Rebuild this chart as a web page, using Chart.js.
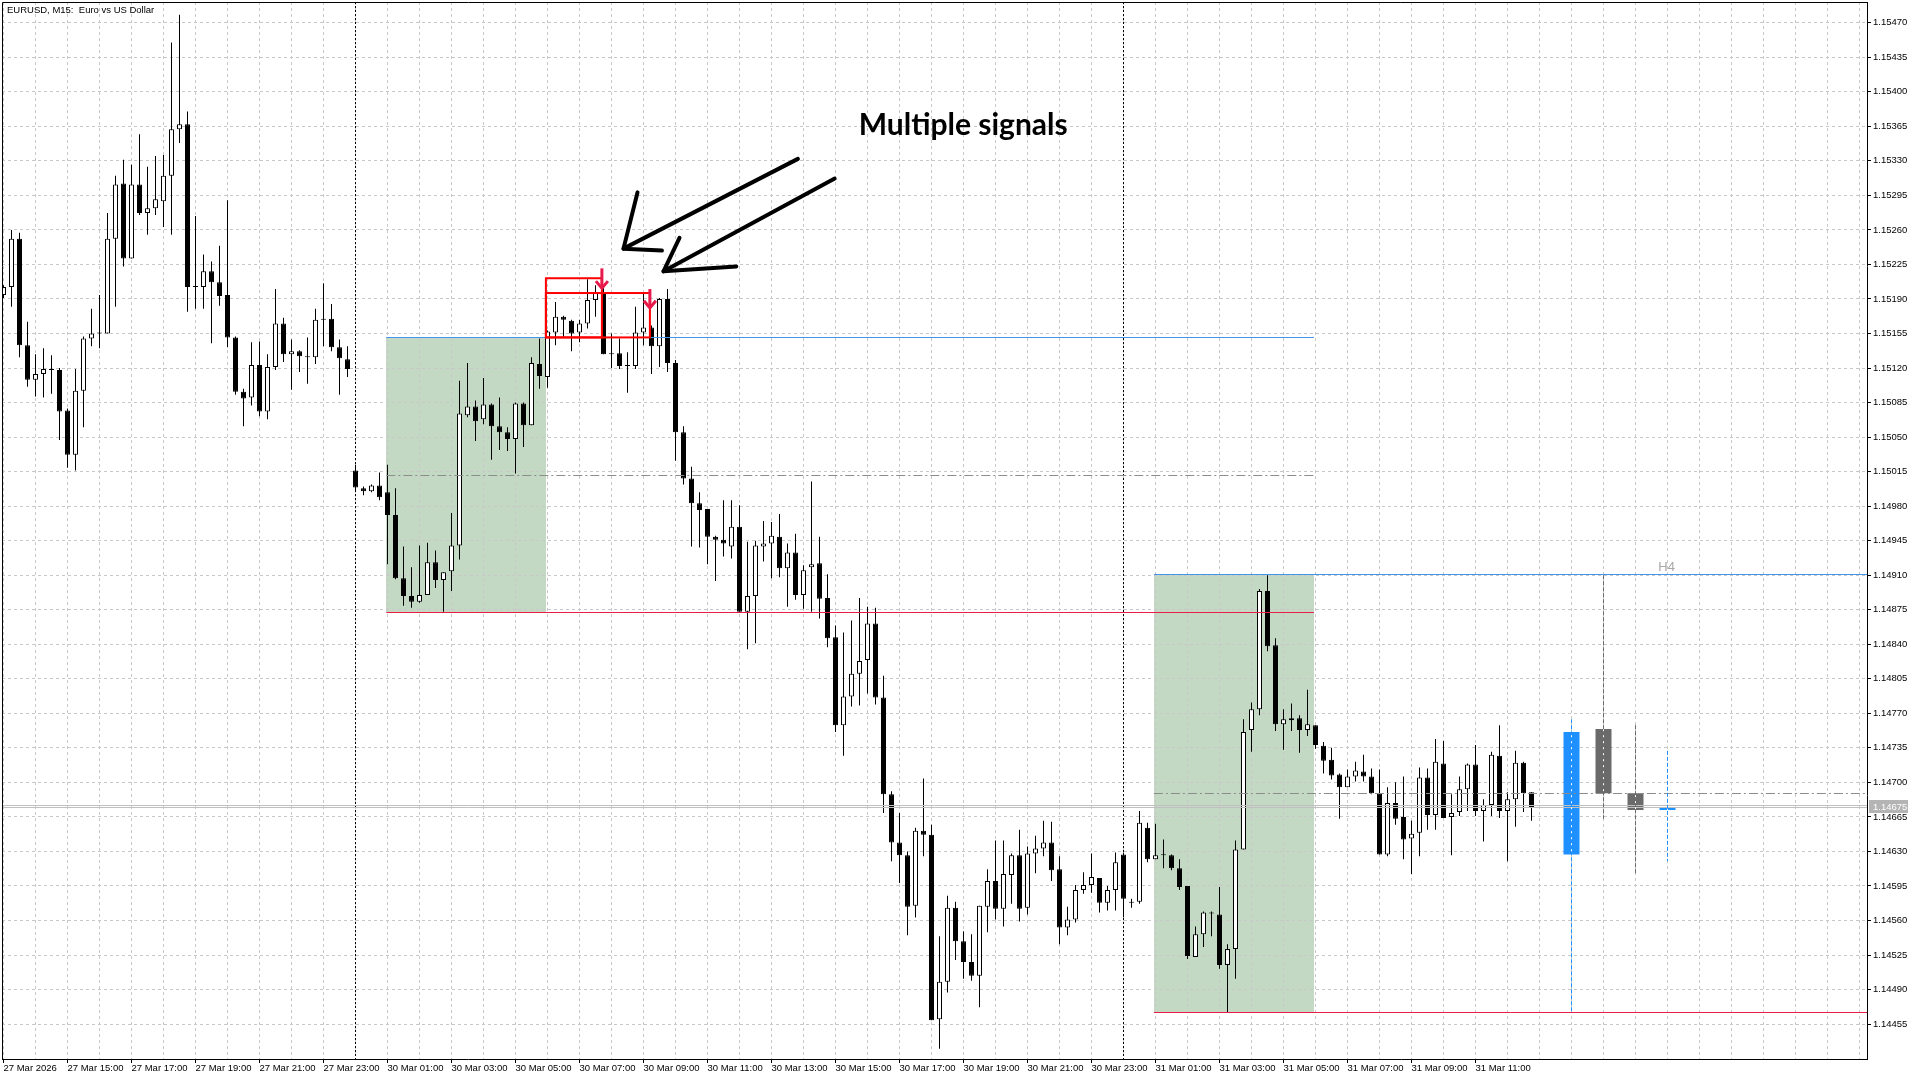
<!DOCTYPE html>
<html>
<head>
<meta charset="utf-8">
<title>EURUSD, M15</title>
<script src="https://cdn.jsdelivr.net/npm/chart.js@4.4.1/dist/chart.umd.min.js"></script>
<style>
  html, body { margin: 0; padding: 0; background: #fff; overflow: hidden; }
  canvas { display: block; }
</style>
</head>
<body>
<canvas id="chart" width="1920" height="1080" style="width:1920px;height:1080px"></canvas>
<script>
// EURUSD M15, one entry per bar: 27 Mar 13:00 ... 31 Mar 12:45 (weekend skipped)
const opens = [
  1.15194, 1.15202, 1.15251, 1.15143, 1.15108, 1.15114, 1.15119, 1.15118, 1.15077, 1.15032,
  1.15097, 1.15150, 1.15155, 1.15155, 1.15251, 1.15307, 1.15231, 1.15306, 1.15277, 1.15282,
  1.15289, 1.15315, 1.15362, 1.15367, 1.15202, 1.15202, 1.15218, 1.15207, 1.15194, 1.15151,
  1.15096, 1.15090, 1.15123, 1.15076, 1.15121, 1.15165, 1.15134, 1.15137, 1.15132, 1.15131,
  1.15169, 1.15170, 1.15141, 1.15129, 1.15016, 1.14998, 1.14995, 1.15001, 1.14994, 1.14971,
  1.14907, 1.14889, 1.14883, 1.14890, 1.14923, 1.14905, 1.14914, 1.14940, 1.15072, 1.15081,
  1.15068, 1.15083, 1.15061, 1.15055, 1.15048, 1.15084, 1.15062, 1.15124, 1.15111, 1.15156,
  1.15172, 1.15168, 1.15156, 1.15165, 1.15189, 1.15196, 1.15135, 1.15135, 1.15123, 1.15122,
  1.15156, 1.15161, 1.15142, 1.15190, 1.15125, 1.15055, 1.15008, 1.14983, 1.14977, 1.14949,
  1.14946, 1.14939, 1.14959, 1.14873, 1.14889, 1.14939, 1.14942, 1.14949, 1.14917, 1.14933,
  1.14890, 1.14918, 1.14922, 1.14887, 1.14847, 1.14758, 1.14787, 1.14810, 1.14824, 1.14861,
  1.14786, 1.14688, 1.14639, 1.14626, 1.14575, 1.14651, 1.14647, 1.14460, 1.14498, 1.14573,
  1.14539, 1.14518, 1.14504, 1.14574, 1.14600, 1.14572, 1.14606, 1.14626, 1.14573, 1.14628,
  1.14633, 1.14639, 1.14612, 1.14553, 1.14561, 1.14591, 1.14596, 1.14603, 1.14578, 1.14591,
  1.14627, 1.14578, 1.14579, 1.14654, 1.14622, 1.14626, 1.14626, 1.14613, 1.14595, 1.14523,
  1.14546, 1.14567, 1.14566, 1.14515, 1.14531, 1.14632, 1.14753, 1.14774, 1.14894, 1.14839,
  1.14759, 1.14763, 1.14765, 1.14753, 1.14758, 1.14737, 1.14723, 1.14708, 1.14695, 1.14706,
  1.14711, 1.14706, 1.14689, 1.14627, 1.14679, 1.14665, 1.14643, 1.14649, 1.14705, 1.14667,
  1.14719, 1.14665, 1.14670, 1.14693, 1.14718, 1.14671, 1.14677, 1.14727, 1.14671, 1.14683,
  1.14720, 1.14690
];
const highs = [
  1.15204, 1.15260, 1.15257, 1.15167, 1.15134, 1.15140, 1.15133, 1.15120, 1.15079, 1.15119,
  1.15152, 1.15180, 1.15194, 1.15277, 1.15315, 1.15331, 1.15326, 1.15357, 1.15324, 1.15335,
  1.15336, 1.15450, 1.15478, 1.15380, 1.15274, 1.15235, 1.15228, 1.15244, 1.15290, 1.15152,
  1.15099, 1.15146, 1.15147, 1.15134, 1.15200, 1.15171, 1.15149, 1.15138, 1.15151, 1.15180,
  1.15206, 1.15185, 1.15149, 1.15142, 1.15022, 1.15000, 1.15002, 1.15014, 1.15022, 1.14998,
  1.14939, 1.14918, 1.14940, 1.14943, 1.14935, 1.14913, 1.14973, 1.15107, 1.15125, 1.15087,
  1.15110, 1.15084, 1.15090, 1.15060, 1.15085, 1.15085, 1.15131, 1.15150, 1.15158, 1.15187,
  1.15173, 1.15169, 1.15169, 1.15210, 1.15204, 1.15202, 1.15155, 1.15150, 1.15136, 1.15182,
  1.15195, 1.15163, 1.15191, 1.15200, 1.15128, 1.15061, 1.15020, 1.14994, 1.14977, 1.14950,
  1.14986, 1.14986, 1.14981, 1.14944, 1.14945, 1.14965, 1.14964, 1.14972, 1.14942, 1.14952,
  1.14920, 1.15005, 1.14949, 1.14911, 1.14859, 1.14852, 1.14864, 1.14887, 1.14878, 1.14877,
  1.14808, 1.14691, 1.14669, 1.14630, 1.14654, 1.14704, 1.14657, 1.14544, 1.14585, 1.14579,
  1.14549, 1.14546, 1.14575, 1.14612, 1.14641, 1.14641, 1.14628, 1.14652, 1.14635, 1.14646,
  1.14661, 1.14660, 1.14625, 1.14574, 1.14596, 1.14609, 1.14628, 1.14603, 1.14595, 1.14629,
  1.14629, 1.14582, 1.14671, 1.14659, 1.14658, 1.14642, 1.14627, 1.14622, 1.14595, 1.14554,
  1.14569, 1.14569, 1.14594, 1.14536, 1.14641, 1.14764, 1.14781, 1.14896, 1.14910, 1.14846,
  1.14774, 1.14780, 1.14768, 1.14794, 1.14758, 1.14741, 1.14735, 1.14709, 1.14713, 1.14721,
  1.14728, 1.14714, 1.14713, 1.14695, 1.14700, 1.14706, 1.14661, 1.14715, 1.14714, 1.14744,
  1.14742, 1.14688, 1.14706, 1.14719, 1.14738, 1.14683, 1.14731, 1.14758, 1.14690, 1.14732,
  1.14721, 1.14690
];
const lows = [
  1.15191, 1.15182, 1.15131, 1.15101, 1.15091, 1.15090, 1.15094, 1.15047, 1.15019, 1.15016,
  1.15060, 1.15142, 1.15140, 1.15155, 1.15182, 1.15223, 1.15231, 1.15275, 1.15255, 1.15275,
  1.15263, 1.15255, 1.15348, 1.15177, 1.15180, 1.15180, 1.15145, 1.15183, 1.15141, 1.15093,
  1.15061, 1.15082, 1.15071, 1.15068, 1.15118, 1.15126, 1.15098, 1.15116, 1.15104, 1.15124,
  1.15142, 1.15137, 1.15093, 1.15111, 1.14994, 1.14991, 1.14994, 1.14986, 1.14921, 1.14906,
  1.14879, 1.14877, 1.14882, 1.14890, 1.14897, 1.14873, 1.14894, 1.14926, 1.15070, 1.15046,
  1.15063, 1.15027, 1.15037, 1.15036, 1.15013, 1.15040, 1.15062, 1.15099, 1.15100, 1.15143,
  1.15151, 1.15137, 1.15146, 1.15160, 1.15172, 1.15134, 1.15120, 1.15119, 1.15095, 1.15119,
  1.15143, 1.15114, 1.15121, 1.15116, 1.15026, 1.15002, 1.14939, 1.14938, 1.14921, 1.14904,
  1.14929, 1.14927, 1.14873, 1.14835, 1.14841, 1.14924, 1.14907, 1.14908, 1.14878, 1.14885,
  1.14876, 1.14873, 1.14866, 1.14837, 1.14751, 1.14727, 1.14777, 1.14778, 1.14790, 1.14779,
  1.14669, 1.14620, 1.14598, 1.14545, 1.14563, 1.14625, 1.14459, 1.14430, 1.14487, 1.14520,
  1.14501, 1.14499, 1.14472, 1.14548, 1.14561, 1.14554, 1.14577, 1.14559, 1.14566, 1.14608,
  1.14625, 1.14600, 1.14536, 1.14545, 1.14558, 1.14587, 1.14588, 1.14568, 1.14570, 1.14570,
  1.14563, 1.14573, 1.14577, 1.14619, 1.14622, 1.14613, 1.14611, 1.14591, 1.14521, 1.14523,
  1.14533, 1.14544, 1.14511, 1.14467, 1.14501, 1.14632, 1.14731, 1.14768, 1.14833, 1.14752,
  1.14733, 1.14752, 1.14730, 1.14747, 1.14734, 1.14709, 1.14703, 1.14663, 1.14695, 1.14701,
  1.14701, 1.14688, 1.14627, 1.14625, 1.14657, 1.14622, 1.14607, 1.14625, 1.14652, 1.14652,
  1.14664, 1.14626, 1.14666, 1.14671, 1.14666, 1.14640, 1.14666, 1.14664, 1.14620, 1.14655,
  1.14670, 1.14661
];
const closes = [
  1.15202, 1.15251, 1.15143, 1.15108, 1.15114, 1.15119, 1.15118, 1.15076, 1.15032, 1.15097,
  1.15150, 1.15155, 1.15155, 1.15251, 1.15306, 1.15231, 1.15306, 1.15277, 1.15282, 1.15291,
  1.15315, 1.15362, 1.15367, 1.15202, 1.15202, 1.15218, 1.15207, 1.15193, 1.15151, 1.15096,
  1.15089, 1.15123, 1.15076, 1.15121, 1.15165, 1.15134, 1.15137, 1.15132, 1.15131, 1.15169,
  1.15170, 1.15141, 1.15130, 1.15119, 1.14999, 1.14995, 1.15001, 1.14989, 1.14971, 1.14907,
  1.14889, 1.14883, 1.14890, 1.14923, 1.14905, 1.14913, 1.14940, 1.15074, 1.15081, 1.15066,
  1.15083, 1.15061, 1.15055, 1.15048, 1.15084, 1.15062, 1.15125, 1.15112, 1.15157, 1.15172,
  1.15169, 1.15155, 1.15165, 1.15189, 1.15197, 1.15134, 1.15134, 1.15122, 1.15122, 1.15156,
  1.15161, 1.15142, 1.15190, 1.15125, 1.15055, 1.15008, 1.14983, 1.14976, 1.14949, 1.14946,
  1.14942, 1.14959, 1.14873, 1.14889, 1.14940, 1.14942, 1.14950, 1.14917, 1.14933, 1.14890,
  1.14915, 1.14921, 1.14886, 1.14846, 1.14758, 1.14787, 1.14810, 1.14823, 1.14861, 1.14786,
  1.14688, 1.14639, 1.14626, 1.14574, 1.14651, 1.14647, 1.14459, 1.14498, 1.14573, 1.14539,
  1.14518, 1.14504, 1.14575, 1.14600, 1.14572, 1.14607, 1.14626, 1.14572, 1.14628, 1.14633,
  1.14639, 1.14611, 1.14553, 1.14561, 1.14591, 1.14596, 1.14604, 1.14578, 1.14591, 1.14619,
  1.14582, 1.14578, 1.14659, 1.14622, 1.14626, 1.14626, 1.14613, 1.14594, 1.14524, 1.14546,
  1.14568, 1.14567, 1.14515, 1.14531, 1.14632, 1.14751, 1.14774, 1.14894, 1.14838, 1.14759,
  1.14764, 1.14765, 1.14753, 1.14759, 1.14738, 1.14722, 1.14707, 1.14695, 1.14706, 1.14712,
  1.14706, 1.14689, 1.14627, 1.14679, 1.14663, 1.14642, 1.14648, 1.14705, 1.14667, 1.14721,
  1.14664, 1.14669, 1.14693, 1.14718, 1.14671, 1.14677, 1.14728, 1.14671, 1.14683, 1.14720,
  1.14689, 1.14675
];

// H4 candles shown to the right of the live bar
const h4Bars  = [196, 200, 204, 208];
const h4Open  = [1.14627, 1.14754, 1.14689, 1.14672];
const h4High  = [1.14764, 1.14910, 1.14758, 1.14732];
const h4Low   = [1.14467, 1.14663, 1.14607, 1.14620];
const h4Close = [1.14751, 1.14689, 1.14672, 1.14675];

// time axis: a label every 8 bars, grid every 4 bars
const timeLabels = [
  '27 Mar 2026', '27 Mar 15:00', '27 Mar 17:00', '27 Mar 19:00', '27 Mar 21:00', '27 Mar 23:00',
  '30 Mar 01:00', '30 Mar 03:00', '30 Mar 05:00', '30 Mar 07:00', '30 Mar 09:00', '30 Mar 11:00',
  '30 Mar 13:00', '30 Mar 15:00', '30 Mar 17:00', '30 Mar 19:00', '30 Mar 21:00', '30 Mar 23:00',
  '31 Mar 01:00', '31 Mar 03:00', '31 Mar 05:00', '31 Mar 07:00', '31 Mar 09:00', '31 Mar 11:00'
];
const daySeparators = [44, 140];
const priceTicks = [
  1.14455, 1.14490, 1.14525, 1.14560, 1.14595, 1.14630, 1.14665, 1.14700, 1.14735, 1.14770,
  1.14805, 1.14840, 1.14875, 1.14910, 1.14945, 1.14980, 1.15015, 1.15050, 1.15085, 1.15120,
  1.15155, 1.15190, 1.15225, 1.15260, 1.15295, 1.15330, 1.15365, 1.15400, 1.15435, 1.15470
];
const bidPrice = 1.14675;
const askPrice = 1.14677;

// two range boxes with their levels
const zoneStart  = [47.85, 143.8];
const zoneEnd    = [67.85, 163.8];
const zoneLineTo = [163.8, null];
const zoneTop    = [1.15151, 1.14911];
const zoneBottom = [1.14873, 1.14467];
const zoneMid    = [1.15012, 1.14689];

// signal boxes and arrows
const signalBoxes = [
  { from: 67.8, to: 74.8, top: 1.15211, bottom: 1.15151 },
  { from: 67.8, to: 80.8, top: 1.15196, bottom: 1.15151 }
];
const signalArrows = [
  { bar: 74.8, top: 1.15221, tip: 1.15201 },
  { bar: 80.8, top: 1.15200, tip: 1.15181 }
];
// hand drawn arrows [bar, price]
const penArrows = [
  { shaft: [[99.3, 1.15332], [77.5, 1.15241]], head: [[79.25, 1.15298], [77.5, 1.15241], [82.3, 1.15239]] },
  { shaft: [[103.9, 1.15312], [82.5, 1.15218]], head: [[84.5, 1.15252], [82.5, 1.15218], [91.6, 1.15223]] }
];
const note = { text: 'Multiple signals', bar: 106.9, price: 1.15356 };

const gridBars = [];
for (let b = 0; b <= 232; b += 4) gridBars.push(b);

const FONT = 'Liberation Sans';
Chart.defaults.font.family = FONT;
Chart.defaults.font.size = 9.5;
Chart.defaults.color = '#000';

function hline(ctx, y, x0, x1, color, dash) {
  ctx.save();
  ctx.strokeStyle = color;
  ctx.lineWidth = 1;
  ctx.setLineDash(dash || []);
  const yy = Math.round(y) + 0.5;
  ctx.beginPath();
  ctx.moveTo(x0, yy);
  ctx.lineTo(x1, yy);
  ctx.stroke();
  ctx.restore();
}

// no extra room for half labels at the ends of the axes
function noPad(s) {
  s.paddingTop = 0; s.paddingBottom = 0; s.paddingLeft = 0; s.paddingRight = 0;
}

const overlay = {
  id: 'overlay',
  beforeDraw(chart) {
    const { ctx, width, height } = chart;
    const xs = chart.scales.x, ys = chart.scales.y;
    ctx.save();
    ctx.fillStyle = '#fff';
    ctx.fillRect(0, 0, width, height);
    ctx.fillStyle = '#c3d9c3';
    zoneStart.forEach((s, k) => {
      const x0 = Math.round(xs.getPixelForValue(s));
      const x1 = Math.round(xs.getPixelForValue(zoneEnd[k]));
      const y0 = Math.round(ys.getPixelForValue(zoneTop[k]));
      const y1 = Math.round(ys.getPixelForValue(zoneBottom[k]));
      ctx.fillRect(x0, y0, x1 - x0, y1 - y0);
    });
    ctx.restore();
  },
  beforeDatasetsDraw(chart) {
    const { ctx, chartArea } = chart;
    const xs = chart.scales.x;
    ctx.save();
    ctx.strokeStyle = '#000';
    ctx.lineWidth = 1;
    ctx.setLineDash([2, 2]);
    daySeparators.forEach(b => {
      const x = Math.floor(xs.getPixelForValue(b)) + 0.5;
      ctx.beginPath();
      ctx.moveTo(x, chartArea.top);
      ctx.lineTo(x, chartArea.bottom);
      ctx.stroke();
    });
    ctx.restore();
  },
  afterDatasetsDraw(chart) {
    const { ctx, chartArea } = chart;
    const xs = chart.scales.x, ys = chart.scales.y;
    const X = v => xs.getPixelForValue(v);
    const Y = v => ys.getPixelForValue(v);

    ctx.save();
    ctx.beginPath();
    ctx.rect(chartArea.left, chartArea.top, chartArea.right - chartArea.left, chartArea.bottom - chartArea.top);
    ctx.clip();

    // bid / ask
    hline(ctx, Y(askPrice), chartArea.left, chartArea.right, '#c0c0c0');
    hline(ctx, Y(bidPrice), chartArea.left, chartArea.right, '#c0c0c0');

    // zone levels
    zoneStart.forEach((s, k) => {
      const x0 = X(s);
      const x1 = zoneLineTo[k] === null ? chartArea.right : X(zoneLineTo[k]);
      hline(ctx, Y(zoneMid[k]), x0, x1, '#8c8c8c', [9, 3, 2, 3]);
      hline(ctx, Y(zoneTop[k]), x0, x1, '#4096eb');
      hline(ctx, Y(zoneBottom[k]), x0, x1, '#e81e46');
    });

    // H4 wicks (dashed, through the body)
    h4Bars.forEach((b, k) => {
      const x = Math.floor(X(b)) + 0.5;
      const col = h4Close[k] >= h4Open[k] ? '#1e90ff' : '#6a6a6a';
      ctx.strokeStyle = '#ffffff';
      ctx.lineWidth = 1;
      ctx.setLineDash([]);
      ctx.beginPath();
      ctx.moveTo(x, Y(Math.max(h4Open[k], h4Close[k])));
      ctx.lineTo(x, Y(Math.min(h4Open[k], h4Close[k])));
      ctx.stroke();
      ctx.strokeStyle = col;
      ctx.setLineDash([4, 2]);
      ctx.beginPath();
      ctx.moveTo(x, Y(h4High[k]));
      ctx.lineTo(x, Y(h4Low[k]));
      ctx.stroke();
    });
    ctx.setLineDash([]);

    // signal boxes
    ctx.strokeStyle = '#ff0000';
    ctx.lineWidth = 2;
    signalBoxes.forEach(bx => {
      const x0 = X(bx.from), x1 = X(bx.to), y0 = Y(bx.top), y1 = Y(bx.bottom);
      ctx.strokeRect(x0, y0, x1 - x0, y1 - y0);
    });

    // signal arrows
    ctx.strokeStyle = '#e8194b';
    ctx.lineWidth = 3;
    ctx.lineCap = 'butt';
    ctx.lineJoin = 'miter';
    signalArrows.forEach(a => {
      const x = X(a.bar), y0 = Y(a.top), y1 = Y(a.tip);
      ctx.beginPath();
      ctx.moveTo(x, y0);
      ctx.lineTo(x, y1);
      ctx.stroke();
      ctx.beginPath();
      ctx.moveTo(x - 6, y1 - 7);
      ctx.lineTo(x, y1);
      ctx.lineTo(x + 6, y1 - 7);
      ctx.stroke();
    });

    // pen arrows
    ctx.strokeStyle = '#000';
    ctx.lineWidth = 4;
    ctx.lineCap = 'round';
    ctx.lineJoin = 'round';
    penArrows.forEach(a => {
      [a.shaft, a.head].forEach(path => {
        ctx.beginPath();
        path.forEach(([b, p], n) => {
          if (n === 0) ctx.moveTo(X(b), Y(p)); else ctx.lineTo(X(b), Y(p));
        });
        ctx.stroke();
      });
    });

    // note
    ctx.fillStyle = '#000';
    ctx.font = 'bold 30px Lato';
    ctx.textAlign = 'left';
    ctx.textBaseline = 'alphabetic';
    ctx.fillText(note.text, X(note.bar), Y(note.price));

    // H4 caption
    ctx.fillStyle = '#a8a8a8';
    ctx.font = '13px ' + FONT;
    ctx.fillText('H4', X(206.85), Y(1.14914));
    ctx.restore();

    // symbol caption
    ctx.save();
    ctx.fillStyle = '#000';
    ctx.font = '9.5px ' + FONT;
    ctx.textBaseline = 'alphabetic';
    ctx.fillText('EURUSD, M15:  Euro vs US Dollar', 7, 13);

    // frame (top and left; right and bottom are the axes)
    ctx.strokeStyle = '#000';
    ctx.lineWidth = 1;
    ctx.beginPath();
    ctx.moveTo(2.5, chartArea.bottom);
    ctx.lineTo(2.5, 2.5);
    ctx.lineTo(chartArea.right, 2.5);
    ctx.stroke();

    // bid label on the price axis
    const yb = Math.round(Y(bidPrice));
    ctx.fillStyle = '#b4b4b4';
    ctx.fillRect(chartArea.right + 2, yb - 7, 39, 13);
    ctx.fillStyle = '#ffffff';
    ctx.textBaseline = 'middle';
    ctx.fillText(bidPrice.toFixed(5), chartArea.right + 6, yb);
    ctx.restore();
  }
};

const bodyData = opens.map((o, i) => ({ x: i, y: [o, closes[i]] }));
const wickData = lows.map((l, i) => ({ x: i, y: [l, highs[i]] }));
const h4Data = h4Bars.map((b, k) => ({ x: b, y: [h4Open[k], h4Close[k]] }));

new Chart(document.getElementById('chart'), {
  type: 'bar',
  data: {
    datasets: [
      {
        label: 'body',
        order: 0,
        data: bodyData,
        backgroundColor: ctx => closes[ctx.dataIndex] >= opens[ctx.dataIndex] ? '#ffffff' : '#000000',
        borderColor: '#000',
        borderWidth: 1,
        borderSkipped: false,
        barThickness: 5,
        minBarLength: 1,
        inflateAmount: 0,
        grouped: false
      },
      {
        label: 'wick',
        order: 1,
        data: wickData,
        backgroundColor: '#000',
        borderWidth: 0,
        barThickness: 1,
        inflateAmount: 0,
        grouped: false
      },
      {
        label: 'H4',
        order: 2,
        data: h4Data,
        backgroundColor: ctx => h4Close[ctx.dataIndex] >= h4Open[ctx.dataIndex] ? '#1e90ff' : '#6a6a6a',
        borderWidth: 0,
        barThickness: 16,
        minBarLength: 2,
        inflateAmount: 0,
        grouped: false
      }
    ]
  },
  options: {
    responsive: false,
    animation: false,
    devicePixelRatio: 1,
    layout: { padding: { left: 2, top: 2, right: 0, bottom: 0 } },
    plugins: { legend: { display: false }, tooltip: { enabled: false } },
    scales: {
      x: {
        type: 'linear',
        min: -0.1875,
        max: 232.9375,
        offset: false,
        afterBuildTicks: s => { s.ticks = gridBars.map(v => ({ value: v })); },
        afterFit: s => { s.height = 21; noPad(s); },
        ticks: {
          autoSkip: false,
          maxRotation: 0,
          minRotation: 0,
          align: 'start',
          padding: 0,
          color: '#000',
          callback: v => (v % 8 === 0 && timeLabels[v / 8]) ? timeLabels[v / 8] : ''
        },
        grid: {
          offset: false,
          color: '#c8c8c8',
          lineWidth: 1,
          tickLength: 4,
          tickBorderDash: [],
          tickColor: ctx => (ctx.tick && ctx.tick.value % 8 === 0 && timeLabels[ctx.tick.value / 8]) ? '#000' : 'rgba(0,0,0,0)'
        },
        border: { display: true, color: '#000', width: 1, dash: [3, 3] }
      },
      y: {
        position: 'right',
        min: 1.144196,
        max: 1.154910,
        afterBuildTicks: s => { s.ticks = priceTicks.map(v => ({ value: v })); },
        afterFit: s => { s.width = 53; noPad(s); },
        ticks: {
          padding: 2,
          color: '#000',
          callback: v => Number(v).toFixed(5)
        },
        grid: {
          color: '#c8c8c8',
          lineWidth: 1,
          tickLength: 4,
          tickBorderDash: [],
          tickColor: '#000'
        },
        border: { display: true, color: '#000', width: 1, dash: [3, 3] }
      }
    }
  },
  plugins: [overlay]
});
</script>
</body>
</html>
